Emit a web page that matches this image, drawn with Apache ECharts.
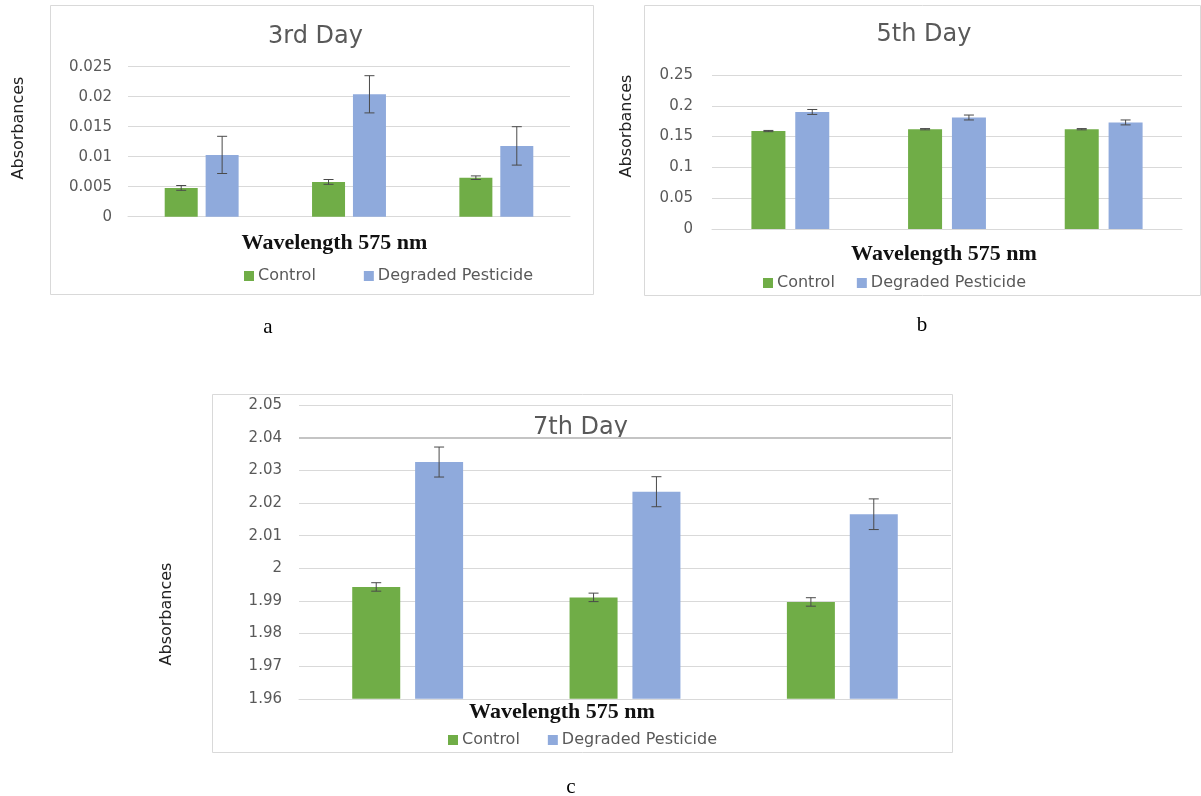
<!DOCTYPE html>
<html>
<head>
<meta charset="utf-8">
<script src="https://cdn.jsdelivr.net/npm/echarts@6/dist/echarts.min.js"></script>
<style>
html,body{margin:0;padding:0;background:#fff;}
#chart{width:1201px;height:796px;}
</style>
</head>
<body>
<div id="chart"></div>
<script>
// ---------- data ----------
const categories = ['Sample 1', 'Sample 2', 'Sample 3'];
const seriesNames = ['Control', 'Degraded Pesticide'];
const titles = ['3rd Day', '5th Day', '7th Day'];
const xTitle = 'Wavelength 575 nm';
const yTitle = 'Absorbances';
const panelLabels = ['a', 'b', 'c'];

const day3Control = [0.0048, 0.0058, 0.0065];
const day3ControlErr = [0.0004, 0.0004, 0.0003];
const day3Degraded = [0.0103, 0.0204, 0.0118];
const day3DegradedErr = [0.0031, 0.0031, 0.0032];

const day5Control = [0.159, 0.162, 0.162];
const day5ControlErr = [0.001, 0.001, 0.001];
const day5Degraded = [0.190, 0.181, 0.173];
const day5DegradedErr = [0.004, 0.004, 0.004];

const day7Control = [1.9943, 1.9911, 1.9897];
const day7ControlErr = [0.0013, 0.0013, 0.0013];
const day7Degraded = [2.0326, 2.0235, 2.0166];
const day7DegradedErr = [0.0046, 0.0046, 0.0047];

const day3Ticks = [0, 0.005, 0.01, 0.015, 0.02, 0.025];
const day5Ticks = [0, 0.05, 0.1, 0.15, 0.2, 0.25];
const day7Ticks = [1.96, 1.97, 1.98, 1.99, 2, 2.01, 2.02, 2.03, 2.04, 2.05];
const day7Highlight = 2.04;

// ---------- layout (positions / styles only) ----------
const GREEN = '#70AD47', BLUE = '#8FAADC', GRID = '#d9d9d9', TXT = '#595959';
const SANS = 'DejaVu Sans', SERIF = 'Liberation Serif';

const panels = [
  { ctrl: day3Control, ctrlErr: day3ControlErr, deg: day3Degraded, degErr: day3DegradedErr, ticks: day3Ticks,
    grid: {left: 128, top: 66.7, width: 442, height: 150}, bw: 33, gap: 0.24, labelMargin: 16,
    box: [50, 5, 543, 289], title: [315.5, 37], xName: [334.5, 243], yName: [19, 128],
    legend: {left: 244, top: 268, itemGap: 48}, label: [268, 327] },
  { ctrl: day5Control, ctrlErr: day5ControlErr, deg: day5Degraded, degErr: day5DegradedErr, ticks: day5Ticks,
    grid: {left: 712, top: 75, width: 470, height: 154}, bw: 34, gap: 0.29, labelMargin: 19,
    box: [644, 5, 556, 290], title: [924, 35], xName: [944, 254], yName: [627, 126],
    legend: {left: 763, top: 275, itemGap: 22}, label: [922, 325] },
  { ctrl: day7Control, ctrlErr: day7ControlErr, deg: day7Degraded, degErr: day7DegradedErr, ticks: day7Ticks,
    grid: {left: 299, top: 405.3, width: 652, height: 293.5}, bw: 48, gap: 0.31, labelMargin: 17,
    box: [212, 394, 740, 358], title: [580.5, 428], xName: [562, 712], yName: [167, 614],
    legend: {left: 448, top: 732, itemGap: 28}, label: [571, 787] }
];

function errorSeries(name, idx, vals, errs, side, p) {
  const offset = side * p.bw * (1 + p.gap) / 2;
  return {
    type: 'custom', name: name + ' error', xAxisIndex: idx, yAxisIndex: idx, z: 10, silent: true,
    data: categories.map((c, j) => [j, vals[j], errs[j]]),
    encode: {x: 0, y: 1},
    renderItem: function (params, api) {
      const j = api.value(0), v = api.value(1), e = api.value(2);
      const hi = api.coord([j, v + e]);
      const lo = api.coord([j, v - e]);
      const x = hi[0] + offset;
      const st = {stroke: '#4a4a4a', lineWidth: 1};
      return {type: 'group', children: [
        {type: 'line', shape: {x1: x, y1: hi[1], x2: x, y2: lo[1]}, style: st},
        {type: 'line', shape: {x1: x - 5, y1: hi[1], x2: x + 5, y2: hi[1]}, style: st},
        {type: 'line', shape: {x1: x - 5, y1: lo[1], x2: x + 5, y2: lo[1]}, style: st}
      ]};
    }
  };
}

const grids = [], xAxes = [], yAxes = [], series = [], legends = [], graphics = [];
panels.forEach((p, i) => {
  grids.push(Object.assign({containLabel: false}, p.grid));
  xAxes.push({
    type: 'category', gridIndex: i, data: categories,
    axisLine: {show: true, lineStyle: {color: GRID, width: 1}},
    axisTick: {show: false}, axisLabel: {show: false}, splitLine: {show: false}
  });
  const interval = p.ticks[1] - p.ticks[0];
  yAxes.push({
    type: 'value', gridIndex: i,
    min: p.ticks[0], max: p.ticks[p.ticks.length - 1], interval: Math.round(interval * 1e6) / 1e6,
    axisLine: {show: false}, axisTick: {show: false},
    axisLabel: {color: TXT, fontSize: 15, fontFamily: SANS, margin: p.labelMargin,
      formatter: v => String(parseFloat(v.toFixed(4)))},
    splitLine: {lineStyle: {color: GRID, width: 1}}
  });
  const ctrlSeries = {
    type: 'bar', name: seriesNames[0], xAxisIndex: i, yAxisIndex: i, data: p.ctrl,
    barWidth: p.bw, barGap: (p.gap * 100) + '%', itemStyle: {color: GREEN}
  };
  if (i === 2) {
    ctrlSeries.markLine = {
      silent: true, symbol: 'none', label: {show: false},
      lineStyle: {color: '#c4c4c4', width: 2, type: 'solid'},
      data: [{yAxis: day7Highlight}]
    };
  }
  series.push(ctrlSeries);
  series.push({
    type: 'bar', name: seriesNames[1], xAxisIndex: i, yAxisIndex: i, data: p.deg,
    barWidth: p.bw, barGap: (p.gap * 100) + '%', itemStyle: {color: BLUE}
  });
  series.push(errorSeries(seriesNames[0], i, p.ctrl, p.ctrlErr, -1, p));
  series.push(errorSeries(seriesNames[1], i, p.deg, p.degErr, 1, p));

  legends.push({
    data: seriesNames, left: p.legend.left, top: p.legend.top, itemGap: p.legend.itemGap,
    padding: 0, icon: 'rect', itemWidth: 10, itemHeight: 10, selectedMode: false,
    textStyle: {color: TXT, fontSize: 16, fontFamily: SANS, padding: [0, 0, 0, -1]}
  });

  graphics.push({type: 'rect', silent: true, z: -1,
    shape: {x: p.box[0] + 0.5, y: p.box[1] + 0.5, width: p.box[2], height: p.box[3]},
    style: {fill: 'none', stroke: GRID, lineWidth: 1}});
  graphics.push({type: 'text', x: p.title[0], y: p.title[1],
    style: {text: titles[i], fontSize: 24, fontFamily: SANS, fill: TXT, align: 'center', verticalAlign: 'middle'}});
  graphics.push({type: 'text', x: p.xName[0], y: p.xName[1],
    style: {text: xTitle, fontSize: 22, fontWeight: 'bold', fontFamily: SERIF, fill: '#111', align: 'center', verticalAlign: 'middle'}});
  graphics.push({type: 'text', x: p.yName[0], y: p.yName[1], rotation: Math.PI / 2,
    style: {text: yTitle, fontSize: 16, fontFamily: SANS, fill: '#222', align: 'center', verticalAlign: 'middle'}});
  graphics.push({type: 'text', x: p.label[0], y: p.label[1],
    style: {text: panelLabels[i], fontSize: 21, fontFamily: SERIF, fill: '#000', align: 'center', verticalAlign: 'middle'}});
});

const chart = echarts.init(document.getElementById('chart'), null, {renderer: 'canvas'});
chart.setOption({
  backgroundColor: '#fff',
  animation: false,
  grid: grids, xAxis: xAxes, yAxis: yAxes, series: series,
  legend: legends, graphic: graphics
});
</script>
</body>
</html>
